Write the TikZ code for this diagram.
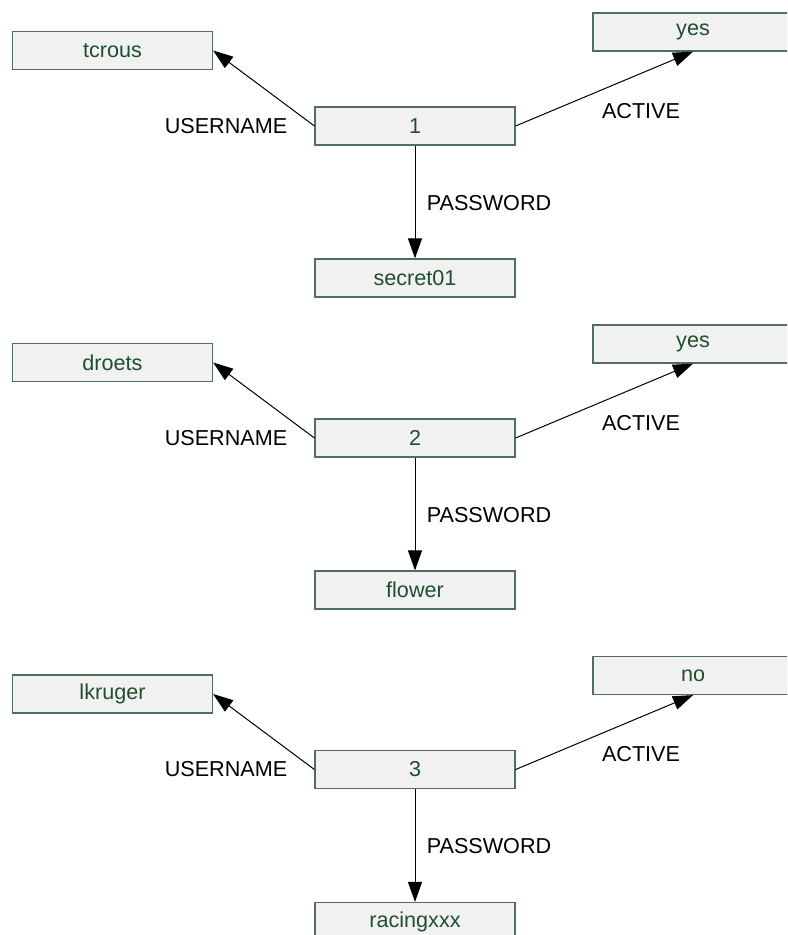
\documentclass[tikz,border=0pt]{standalone}
\usepackage{fontspec}
\setmainfont{Liberation Sans}
\usetikzlibrary{arrows.meta,positioning}

\definecolor{valtext}{RGB}{31,79,47}
\definecolor{valline}{RGB}{80,112,88}
\definecolor{valfill}{RGB}{241,241,241}

\tikzset{
  valbox/.style={draw=valline, fill=valfill, text=valtext, line width=0.6pt,
    minimum width=100pt, minimum height=19pt, inner sep=0pt,
    font=\fontsize{10.8}{13}\selectfont},
  rellabel/.style={inner sep=0pt, font=\fontsize{10.8}{13}\selectfont},
  rel/.style={-{Triangle[length=10pt,width=7pt]}, line width=0.5pt},
}

\begin{document}
\begin{tikzpicture}[x=0.5pt,y=-0.5pt]
				\clip (0,0) rectangle (787,935);
				% record 1
				\node[valbox] (id1) at (415,126) {1};
				\node[valbox] (user1) at (112.5,50.5) {tcrous};
				\node[valbox] (pass1) at (415,278) {secret01};
				\node[valbox] (active1) at (693,32) {yes};
				\node[rellabel] (luser1) at (226,126) {USERNAME};
				\node[rellabel] (lactive1) at (641,111) {ACTIVE};
				\node[rellabel] (lpass1) at (489,203) {PASSWORD};
				\draw[rel] (id1.west) -- (user1.east);
				\draw[rel] (id1.east) -- (active1.south);
				\draw[rel] (id1.south) -- (pass1.north);
				% record 2
				\node[valbox] (id2) at (415,438) {2};
				\node[valbox] (user2) at (112.5,362.5) {droets};
				\node[valbox] (pass2) at (415,590) {flower};
				\node[valbox] (active2) at (693,344) {yes};
				\node[rellabel] (luser2) at (226,438) {USERNAME};
				\node[rellabel] (lactive2) at (641,423) {ACTIVE};
				\node[rellabel] (lpass2) at (489,515) {PASSWORD};
				\draw[rel] (id2.west) -- (user2.east);
				\draw[rel] (id2.east) -- (active2.south);
				\draw[rel] (id2.south) -- (pass2.north);
				% record 3
				\node[valbox] (id3) at (415,769.5) {3};
				\node[valbox] (user3) at (112.5,694) {lkruger};
				\node[valbox] (pass3) at (415,921.5) {racingxxx};
				\node[valbox] (active3) at (693,675.5) {no};
				\node[rellabel] (luser3) at (226,769.5) {USERNAME};
				\node[rellabel] (lactive3) at (641,754.5) {ACTIVE};
				\node[rellabel] (lpass3) at (489,846.5) {PASSWORD};
				\draw[rel] (id3.west) -- (user3.east);
				\draw[rel] (id3.east) -- (active3.south);
				\draw[rel] (id3.south) -- (pass3.north);
			\end{tikzpicture}
\end{document}
